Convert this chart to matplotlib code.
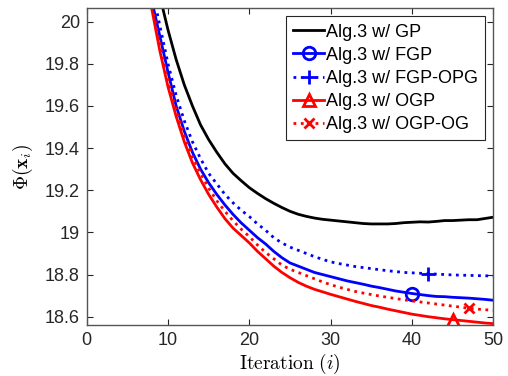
import matplotlib
matplotlib.use("Agg")
import matplotlib.pyplot as plt
import numpy as np

plt.rcParams['font.family'] = ['Liberation Sans', 'DejaVu Sans']
plt.rcParams['mathtext.fontset'] = 'cm'

iterations = list(range(1, 51))

gp = [26.5, 24.6, 23.2, 22.2, 21.5, 20.95, 20.6, 20.29, 20.12, 19.96,
      19.82, 19.70, 19.60, 19.51, 19.44, 19.38, 19.325, 19.28, 19.245, 19.212,
      19.185, 19.16, 19.138, 19.118, 19.10, 19.086, 19.076, 19.068, 19.062, 19.058,
      19.054, 19.05, 19.046, 19.042, 19.04, 19.04, 19.04, 19.042, 19.046, 19.048,
      19.05, 19.049, 19.052, 19.056, 19.056, 19.058, 19.06, 19.06, 19.066, 19.072]

fgp = [26.0, 24.1, 22.8, 21.9, 21.25, 20.72, 20.30, 20.10, 19.93, 19.76,
       19.60, 19.48, 19.38, 19.30, 19.235, 19.18, 19.13, 19.085, 19.045, 19.01,
       18.975, 18.945, 18.91, 18.88, 18.855, 18.84, 18.825, 18.81, 18.80, 18.79,
       18.78, 18.77, 18.762, 18.754, 18.745, 18.738, 18.73, 18.722, 18.716, 18.71,
       18.705, 18.70, 18.696, 18.695, 18.692, 18.69, 18.688, 18.685, 18.682, 18.678]

fgp_opg = [26.1, 24.2, 22.9, 22.0, 21.3, 20.76, 20.35, 20.16, 19.98, 19.80,
           19.65, 19.53, 19.43, 19.35, 19.28, 19.23, 19.18, 19.14, 19.105, 19.075,
           19.04, 19.01, 18.975, 18.95, 18.93, 18.915, 18.90, 18.885, 18.872, 18.86,
           18.852, 18.845, 18.838, 18.833, 18.828, 18.823, 18.818, 18.814, 18.81, 18.808,
           18.806, 18.804, 18.802, 18.80, 18.798, 18.797, 18.796, 18.795, 18.794, 18.793]

ogp = [25.8, 23.9, 22.6, 21.7, 21.1, 20.62, 20.28, 20.06, 19.86, 19.69,
       19.55, 19.43, 19.33, 19.25, 19.18, 19.12, 19.065, 19.02, 18.985, 18.95,
       18.91, 18.875, 18.84, 18.81, 18.785, 18.763, 18.745, 18.73, 18.718, 18.706,
       18.695, 18.684, 18.673, 18.663, 18.653, 18.645, 18.636, 18.628, 18.62, 18.612,
       18.606, 18.60, 18.595, 18.59, 18.586, 18.582, 18.578, 18.574, 18.57, 18.567]

ogp_og = [25.9, 24.0, 22.7, 21.8, 21.15, 20.66, 20.30, 20.08, 19.89, 19.72,
          19.58, 19.46, 19.36, 19.28, 19.21, 19.15, 19.10, 19.055, 19.015, 18.98,
          18.94, 18.905, 18.875, 18.845, 18.825, 18.81, 18.795, 18.78, 18.765, 18.752,
          18.74, 18.73, 18.72, 18.712, 18.705, 18.698, 18.692, 18.686, 18.68, 18.675,
          18.67, 18.665, 18.66, 18.655, 18.65, 18.645, 18.64, 18.636, 18.633, 18.63]

labels = ['Alg.3 w/ GP', 'Alg.3 w/ FGP', 'Alg.3 w/ FGP-OPG', 'Alg.3 w/ OGP', 'Alg.3 w/ OGP-OG']
marker_iters = [None, 40, 42, 45, 47]

fig = plt.figure(figsize=(5.08, 3.76), dpi=100)
ax = fig.add_axes([86.7/508, 1 - 324.7/376, (493.3-86.7)/508, (324.7-8.3)/376])

styles = [
    dict(color='black', ls='-', marker=None, ms=0),
    dict(color='blue', ls='-', marker='o', ms=9),
    dict(color='blue', ls=':', marker='+', ms=10),
    dict(color='red', ls='-', marker='^', ms=9),
    dict(color='red', ls=':', marker='x', ms=7),
]
series = [gp, fgp, fgp_opg, ogp, ogp_og]
x = np.array(iterations)
for ys, st, lab, mi in zip(series, styles, labels, marker_iters):
    kw = dict(color=st['color'], ls=st['ls'], lw=2, label=lab)
    if st['marker'] is not None:
        kw.update(marker=st['marker'], markevery=[iterations.index(mi)],
                  markersize=st['ms'], mfc='none', mew=2)
    ax.plot(x, ys, **kw)

ax.set_xlim(0, 50)
ax.set_ylim(18.562, 20.063)
ax.set_xticks([0, 10, 20, 30, 40, 50])
ax.set_yticks([18.6, 18.8, 19, 19.2, 19.4, 19.6, 19.8, 20])
ax.set_yticklabels(['18.6', '18.8', '19', '19.2', '19.4', '19.6', '19.8', '20'])
ax.tick_params(direction='in', top=True, right=True, length=4, width=0.8,
               labelsize=13, colors='#262626', pad=5)
for sp in ax.spines.values():
    sp.set_color('#555555')
    sp.set_linewidth(1)

ax.set_xlabel(r'$\mathrm{Iteration}\ (i)$', fontsize=14, labelpad=2)
ax.set_ylabel(r'$\Phi(\mathbf{x}_i)$', fontsize=14, labelpad=7)

leg = ax.legend(loc='upper right', fontsize=13, handlelength=1.7, handletextpad=0.1,
                labelspacing=0.34, borderpad=0.4, borderaxespad=0.45,
                fancybox=False, framealpha=1, edgecolor='#262626')
leg.get_frame().set_linewidth(0.8)

fig.savefig('out.png', dpi=100)
